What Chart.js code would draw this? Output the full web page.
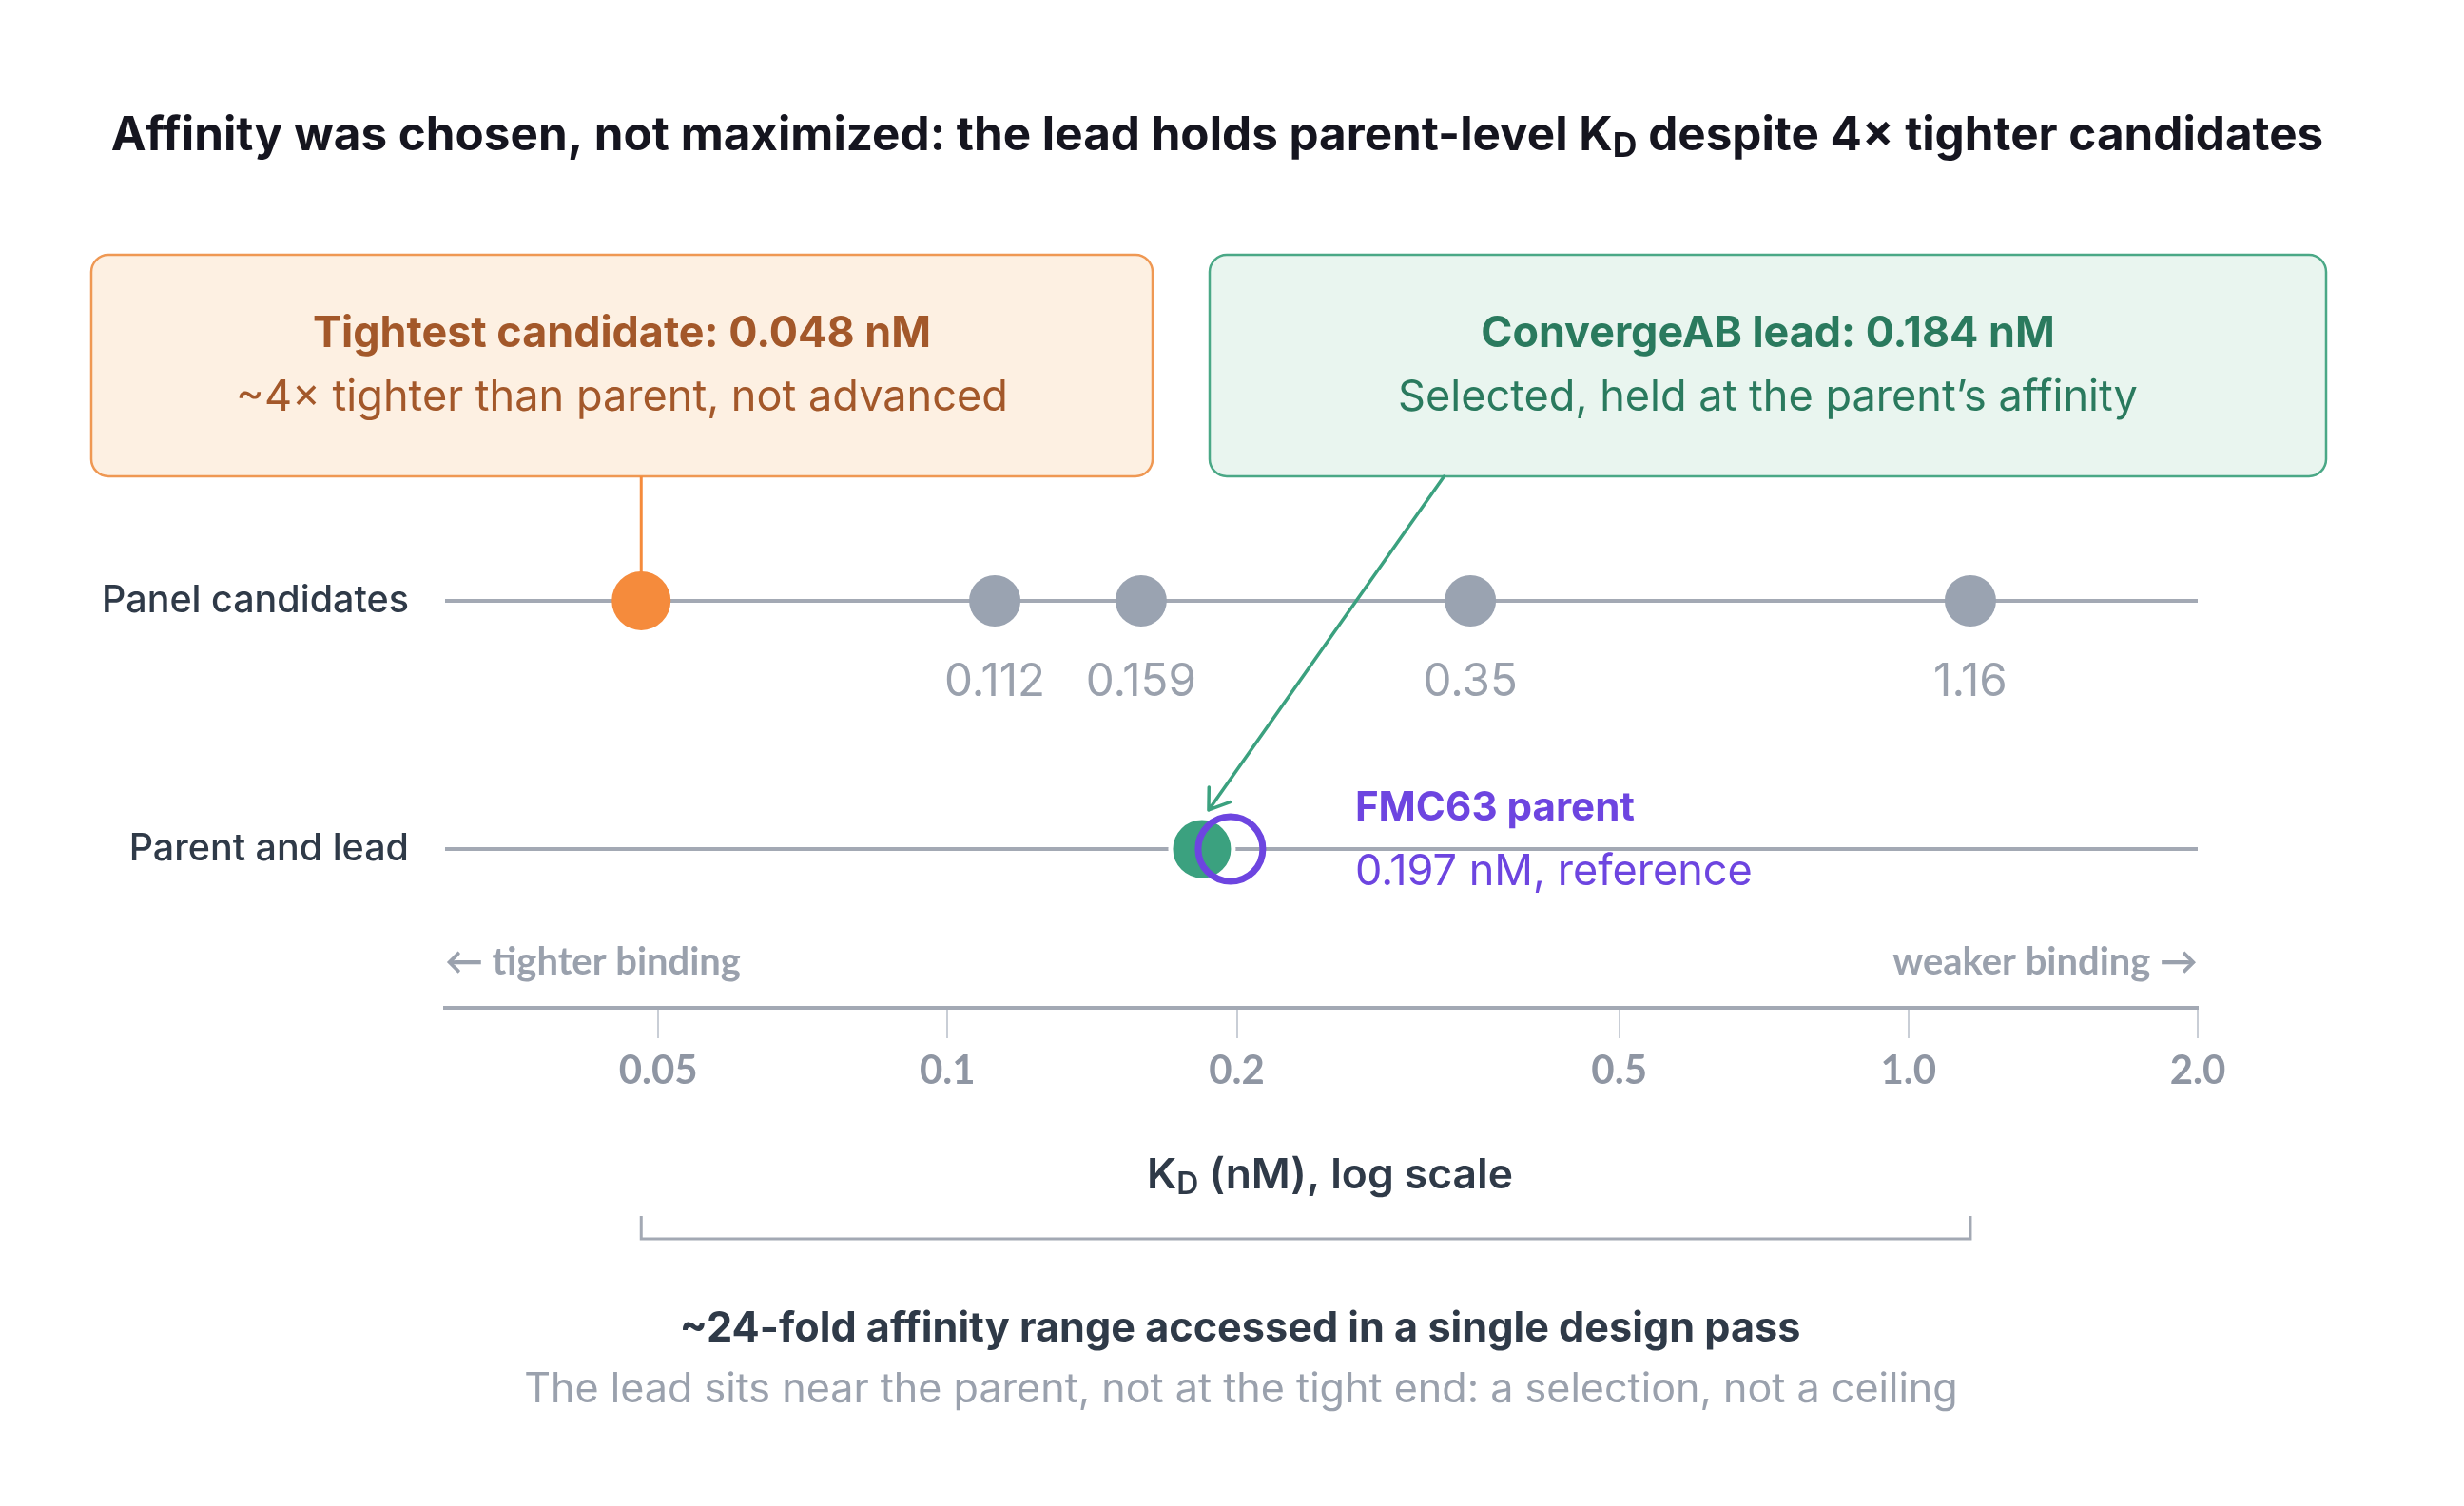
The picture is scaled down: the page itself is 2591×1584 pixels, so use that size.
<!DOCTYPE html>
<html>
<head>
<meta charset="utf-8">
<script src="https://cdn.jsdelivr.net/npm/chart.js@4.4.1/dist/chart.umd.min.js"></script>
<style>
  html, body { margin: 0; padding: 0; background: #fff; }
  #wrap { width: 2591px; height: 1584px; position: relative; }
  canvas { display: block; }
</style>
</head>
<body>
<div id="wrap"><canvas id="kd"></canvas></div>
<script>
// K_D values in nM
const candidateKd = [0.048, 0.112, 0.159, 0.35, 1.16];
const candidateLabels = ['0.048', '0.112', '0.159', '0.35', '1.16'];
const leadKd = [0.184];
const parentKd = [0.197];
const rowNames = ['Panel candidates', 'Parent and lead'];
const rowValues = [1, 0];
const tickValues = [0.05, 0.1, 0.2, 0.5, 1.0, 2.0];
const tickLabels = ['0.05', '0.1', '0.2', '0.5', '1.0', '2.0'];
const axisRange = [0.03, 2.0];

const C = {
    ink: '#15151f', slate: '#2f3a48', grey: '#9aa1ad', axis: '#a3a9b4', tick: '#c9ced6',
    orange: '#f58b3c', orangeText: '#a3582a', orangeFill: '#fdf0e2', orangeEdge: '#ef9853',
    green: '#3ba17f', greenText: '#2a7a5e', greenFill: '#e9f5ef', greenEdge: '#4aa886',
    purple: '#6d45e0', dot: '#9aa3b1'
};
const SANS = 'Inter, "Noto Sans", sans-serif';
const LATO = 'Lato, "Noto Sans", sans-serif';

function fit(ctx, text, weight, family, width) {
    ctx.font = `${weight} 100px ${family}`;
    return 100 * width / ctx.measureText(text).width;
}

// parts: [text, isSubscript]
function richWidth(ctx, parts, weight, size, family) {
    let w = 0;
    parts.forEach(([t, sub]) => {
        ctx.font = `${weight} ${sub ? size * 0.72 : size}px ${family}`;
        w += ctx.measureText(t).width;
    });
    return w;
}

function drawRich(ctx, parts, cx, cy, weight, size, family, color) {
    let x = cx - richWidth(ctx, parts, weight, size, family) / 2;
    ctx.fillStyle = color;
    ctx.textAlign = 'left';
    ctx.textBaseline = 'middle';
    parts.forEach(([t, sub]) => {
        ctx.font = `${weight} ${sub ? size * 0.72 : size}px ${family}`;
        ctx.fillText(t, x, sub ? cy + size * 0.22 : cy);
        x += ctx.measureText(t).width;
    });
}

function text(ctx, t, x, y, weight, size, family, color, align) {
    ctx.font = `${weight} ${size}px ${family}`;
    ctx.fillStyle = color;
    ctx.textAlign = align || 'center';
    ctx.textBaseline = 'middle';
    ctx.fillText(t, x, y);
}

const boxes = {
    tight: { x: 96, y: 268, w: 1116, h: 233, fill: C.orangeFill, edge: C.orangeEdge },
    lead: { x: 1272, y: 268, w: 1174, h: 233, fill: C.greenFill, edge: C.greenEdge }
};

const annotate = {
    id: 'annotate',
    beforeDatasetsDraw(chart) {
        const { ctx, scales: { x, y } } = chart;
        ctx.save();
        Object.values(boxes).forEach(b => {
            ctx.beginPath();
            ctx.roundRect(b.x, b.y, b.w, b.h, 18);
            ctx.fillStyle = b.fill;
            ctx.fill();
            ctx.lineWidth = 2.5;
            ctx.strokeStyle = b.edge;
            ctx.stroke();
        });
        // tie from the orange callout down to the tightest candidate
        const tx = x.getPixelForValue(candidateKd[0]);
        ctx.beginPath();
        ctx.moveTo(tx, boxes.tight.y + boxes.tight.h);
        ctx.lineTo(tx, y.getPixelForValue(rowValues[0]) - 20);
        ctx.lineWidth = 3;
        ctx.strokeStyle = C.orange;
        ctx.stroke();
        ctx.restore();
    },
    afterDatasetsDraw(chart) {
        const { ctx, chartArea: area, scales: { x, y } } = chart;
        ctx.save();

        // arrow from the green callout to the lead
        const b = boxes.lead;
        const sx = b.x + 0.21 * b.w, sy = b.y + b.h;
        const ex = x.getPixelForValue(leadKd[0]) + 7, ey = y.getPixelForValue(rowValues[1]) - 41;
        const ang = Math.atan2(sy - ey, sx - ex);
        ctx.strokeStyle = C.green;
        ctx.lineWidth = 3.5;
        ctx.lineCap = 'round';
        ctx.beginPath();
        ctx.moveTo(sx, sy);
        ctx.lineTo(ex, ey);
        [-0.6, 0.6].forEach(d => {
            ctx.moveTo(ex, ey);
            ctx.lineTo(ex + 24 * Math.cos(ang + d), ey + 24 * Math.sin(ang + d));
        });
        ctx.stroke();

        // title
        const title = [['Affinity was chosen, not maximized: the lead holds parent-level K', false], ['D', true], [' despite 4× tighter candidates', false]];
        const tw = richWidth(ctx, title, 700, 100, SANS);
        drawRich(ctx, title, 1280, 143, 700, 100 * 2327 / tw, SANS, C.ink);

        // callout text
        const t1 = `Tightest candidate: ${candidateLabels[0]} nM`;
        const t2 = `ConvergeAB lead: ${leadKd[0]} nM`;
        const s1 = '~4× tighter than parent, not advanced';
        const s2 = 'Selected, held at the parent’s affinity';
        const hs = fit(ctx, t1, 700, SANS, 650);
        const ss = fit(ctx, s1, 400, SANS, 812);
        const bt = boxes.tight, bl = boxes.lead;
        text(ctx, t1, bt.x + bt.w / 2, bt.y + 84, 700, hs, SANS, C.orangeText);
        text(ctx, s1, bt.x + bt.w / 2, bt.y + 150, 400, ss, SANS, C.orangeText);
        text(ctx, t2, bl.x + bl.w / 2, bl.y + 84, 700, hs, SANS, C.greenText);
        text(ctx, s2, bl.x + bl.w / 2, bl.y + 150, 400, ss, SANS, C.greenText);

        // row names
        const rs = fit(ctx, rowNames[0], 500, SANS, 323);
        rowNames.forEach((n, i) => text(ctx, n, area.left - 38, y.getPixelForValue(rowValues[i]), 500, rs, SANS, C.slate, 'right'));

        // candidate values under the dots (tightest one is in the callout)
        const vs = fit(ctx, candidateLabels[1], 400, SANS, 106);
        candidateKd.forEach((v, i) => {
            if (i === 0) return;
            text(ctx, candidateLabels[i], x.getPixelForValue(v), y.getPixelForValue(rowValues[0]) + 86, 400, vs, SANS, C.grey);
        });

        // parent label
        const px = x.getPixelForValue(parentKd[0]) + 131;
        const py = y.getPixelForValue(rowValues[1]);
        text(ctx, 'FMC63 parent', px, py - 43, 700, fit(ctx, 'FMC63 parent', 700, SANS, 294), SANS, C.purple, 'left');
        const ps = `${parentKd[0]} nM, reference`;
        text(ctx, ps, px, py + 25, 400, fit(ctx, ps, 400, SANS, 418), SANS, C.purple, 'left');

        // direction hints
        const ds = fit(ctx, '← tighter binding', 700, LATO, 311);
        text(ctx, '← tighter binding', area.left, area.bottom - 48, 700, ds, LATO, C.grey, 'left');
        text(ctx, 'weaker binding →', area.right, area.bottom - 48, 700, ds, LATO, C.grey, 'right');

        // axis title
        const at = [['K', false], ['D', true], [' (nM), log scale', false]];
        const aw = richWidth(ctx, at, 600, 100, SANS);
        drawRich(ctx, at, (area.left + area.right) / 2 + 9, 1237, 600, 100 * 385 / aw, SANS, C.slate);

        // range bracket spanning the candidate panel
        const bx0 = x.getPixelForValue(Math.min(...candidateKd));
        const bx1 = x.getPixelForValue(Math.max(...candidateKd));
        ctx.strokeStyle = C.axis;
        ctx.lineWidth = 3;
        ctx.lineCap = 'butt';
        ctx.beginPath();
        ctx.moveTo(bx0, 1279);
        ctx.lineTo(bx0, 1303);
        ctx.lineTo(bx1, 1303);
        ctx.lineTo(bx1, 1279);
        ctx.stroke();

        const fold = Math.round(Math.max(...candidateKd) / Math.min(...candidateKd));
        const f1 = `~${fold}-fold affinity range accessed in a single design pass`;
        const f2 = 'The lead sits near the parent, not at the tight end: a selection, not a ceiling';
        text(ctx, f1, 1304, 1398, 700, fit(ctx, f1, 700, SANS, 1179), SANS, C.slate);
        text(ctx, f2, 1305, 1462, 400, fit(ctx, f2, 400, SANS, 1508), SANS, C.grey);

        ctx.restore();
    }
};

const rowLine = (yv) => ({
    type: 'line',
    data: axisRange.map(v => ({ x: v, y: yv })),
    borderColor: C.axis,
    borderWidth: 4,
    pointRadius: 0,
    order: 10
});

new Chart(document.getElementById('kd'), {
    type: 'scatter',
    data: {
        datasets: [
            rowLine(rowValues[0]),
            rowLine(rowValues[1]),
            {
                label: 'Panel candidates',
                data: candidateKd.map(v => ({ x: v, y: rowValues[0] })),
                pointBackgroundColor: candidateKd.map((v, i) => i === 0 ? C.orange : C.dot),
                pointRadius: candidateKd.map((v, i) => i === 0 ? 31 : 27),
                pointBorderWidth: 0,
                order: 3
            },
            {
                label: 'ConvergeAB lead',
                data: leadKd.map(v => ({ x: v, y: rowValues[1] })),
                pointBackgroundColor: C.green,
                pointBorderColor: '#ffffff',
                pointBorderWidth: 5,
                pointRadius: 33,
                order: 2
            },
            {
                label: 'FMC63 parent',
                data: parentKd.map(v => ({ x: v, y: rowValues[1] })),
                pointBackgroundColor: 'rgba(0,0,0,0)',
                pointBorderColor: C.purple,
                pointBorderWidth: 7,
                pointRadius: 34,
                order: 1
            }
        ]
    },
    options: {
        responsive: true,
        maintainAspectRatio: false,
        animation: false,
        devicePixelRatio: 1,
        events: [],
        layout: { padding: { left: 468, right: 280, top: 260, bottom: 400 } },
        scales: {
            x: {
                type: 'logarithmic',
                min: axisRange[0],
                max: axisRange[1],
                afterBuildTicks: s => { s.ticks = tickValues.map(v => ({ value: v })); },
                afterFit: s => { s.height = 124; },
                ticks: {
                    autoSkip: false,
                    maxRotation: 0,
                    padding: 9,
                    color: '#8f96a3',
                    font: { family: 'Lato', size: 42, weight: 'bold' },
                    callback: (v, i) => tickLabels[i]
                },
                grid: {
                    drawOnChartArea: false,
                    drawTicks: true,
                    tickLength: 32,
                    tickColor: C.tick,
                    tickWidth: 2,
                    color: C.tick,
                    lineWidth: 2
                },
                border: { display: true, color: C.axis, width: 4 }
            },
            y: { display: false, min: -0.64, max: 2.425 }
        },
        plugins: { legend: { display: false }, tooltip: { enabled: false } }
    },
    plugins: [annotate]
});
</script>
</body>
</html>
